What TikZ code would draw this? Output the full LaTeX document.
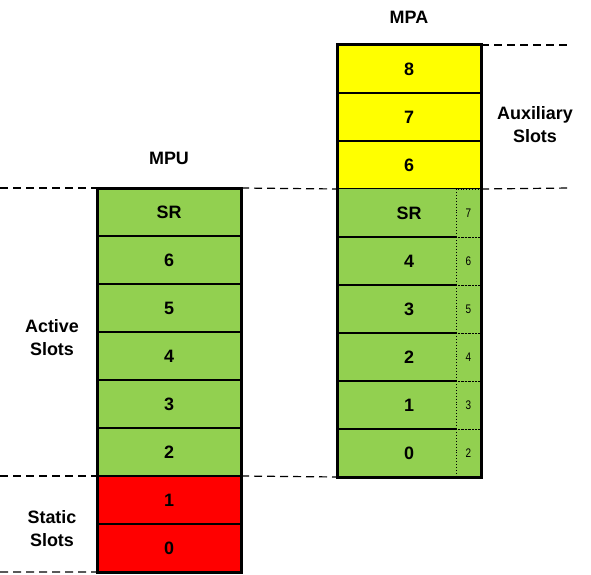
\documentclass[tikz,border=0pt]{standalone}
\usepackage{fontspec}
\setmainfont{Liberation Sans}
\newfontfamily\narrowfont[FakeStretch=0.8]{Liberation Sans}
\definecolor{slotgreen}{HTML}{92D050}
\definecolor{slotyellow}{HTML}{FFFF00}
\definecolor{slotred}{HTML}{FF0000}
\begin{document}
\begin{tikzpicture}[x=1bp,y=-1bp,
  bigfont/.style={font=\bfseries\fontsize{18}{23}\selectfont},
  slot/.style={draw=black, line width=1.5bp, minimum width=144bp, minimum height=48bp, inner sep=0pt, outer sep=0pt, anchor=north west, bigfont},
  slotfill/.style={slot, draw=none},
  subslot/.style={draw=black, line width=0.9bp, dotted, minimum width=25bp, minimum height=48bp, inner sep=0pt, outer sep=0pt, anchor=north west, font=\narrowfont\fontsize{12.5}{12.5}\selectfont},
  frame/.style={draw=black, line width=3bp},
  guide/.style={draw=black, line width=1.2bp, dash pattern=on 8bp off 5bp},
  lbl/.style={bigfont, align=center, inner sep=0pt}]
\useasboundingbox (0,0) rectangle (591,575);
% MPU
\foreach \t/\c [count=\i] in {SR/slotgreen,6/slotgreen,5/slotgreen,4/slotgreen,3/slotgreen,2/slotgreen,1/slotred,0/slotred}
  \node[slot, fill=\c] (mpu\i) at (97,{188+48*(\i-1)}) {\t};
\draw[frame] (mpu1.north west) rectangle (mpu8.south east);
% MPA
\foreach \t [count=\i] in {8,7,6}
  \node[slot, fill=slotyellow] (mpa\i) at (337,{45+48*(\i-1)}) {\t};
\foreach \t [count=\j from 4] in {SR,4,3,2,1,0}
  \node[slotfill, fill=slotgreen] (mpa\j) at (337,{45+48*(\j-1)}) {\t};
\foreach \j in {4,...,8}
  \draw[line width=1.5bp] (mpa\j.south west) -- ++(119,0);
\foreach \n [count=\k from 4] in {7,6,5,4,3,2}
  \node[subslot] (sub\k) at (456,{45+48*(\k-1)}) {\n};
\draw[frame] (mpa1.north west) rectangle (mpa9.south east);
% guide lines
\coordinate (gA) at (570,45);
\coordinate (gB) at (0,188);
\coordinate (gC) at (570,188);
\coordinate (gD) at (0,476);
\coordinate (gE) at (0,572);
\draw[guide] (mpa1.north east) -- (gA);
\draw[guide] (gB) -- (mpu1.north west);
\draw[guide] (mpu1.north east) -- (mpa4.north west);
\draw[guide] (mpa4.north east) -- (gC);
\draw[guide] (gD) -- (mpu7.north west);
\draw[guide] (mpu7.north east) -- (mpa9.south west);
\draw[guide] (gE) -- (mpu8.south west);
% labels
\node[lbl] (tmpu) at (169,158) {MPU};
\node[lbl] (tmpa) at (409,17) {MPA};
\node[lbl] (taux) at (535,125) {Auxiliary\\Slots};
\node[lbl] (tact) at (52,338) {Active\\Slots};
\node[lbl] (tsta) at (52,529) {Static\\Slots};
\end{tikzpicture}
\end{document}
